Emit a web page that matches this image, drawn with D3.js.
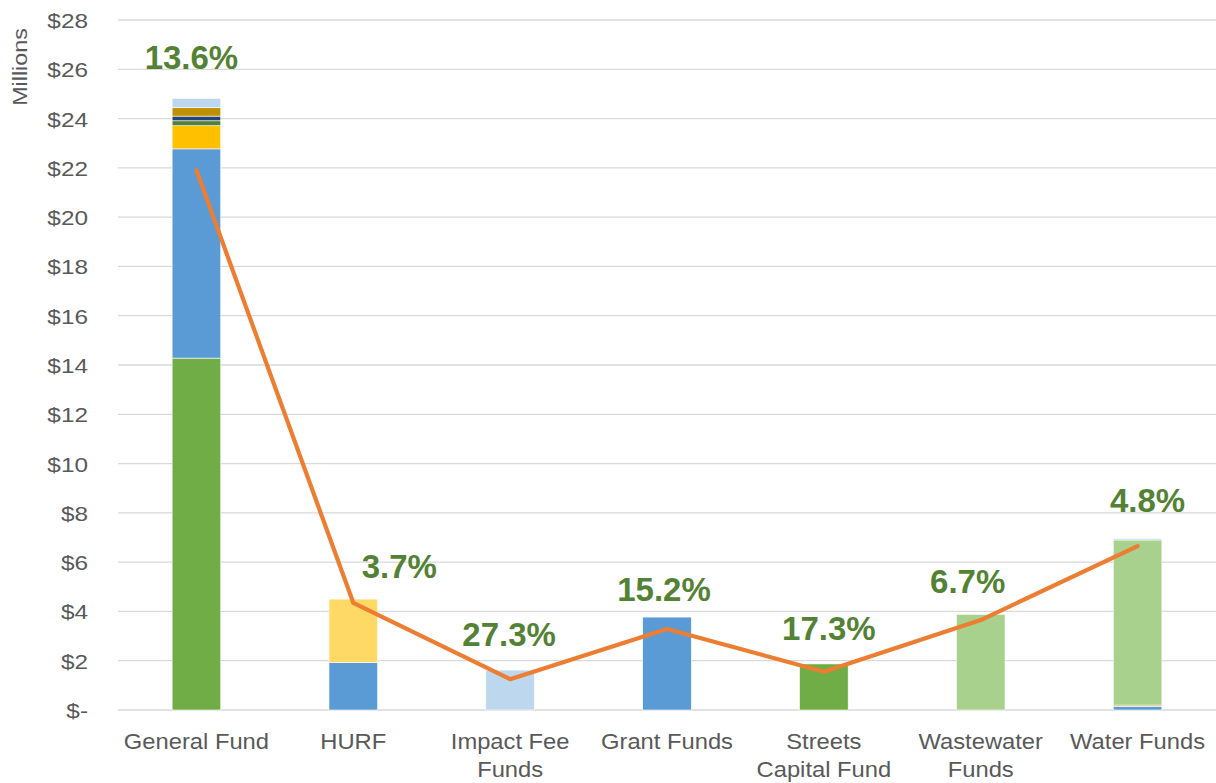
<!DOCTYPE html>
<html>
<head>
<meta charset="utf-8">
<script src="https://cdn.jsdelivr.net/npm/d3@7"></script>
<style>
  html, body { margin: 0; padding: 0; background: #fff; }
  svg { display: block; font-family: "Liberation Sans", Arial, sans-serif; }
</style>
</head>
<body>
<svg id="chart" width="1216" height="783"></svg>
<script>
// ---- data ----
const categories = ["General Fund", "HURF", "Impact Fee Funds", "Grant Funds", "Streets Capital Fund", "Wastewater Funds", "Water Funds"];
const categoryLines = [["General Fund"], ["HURF"], ["Impact Fee", "Funds"], ["Grant Funds"], ["Streets", "Capital Fund"], ["Wastewater", "Funds"], ["Water Funds"]];
const seriesNames = ["Source 1", "Source 2", "Source 3", "Source 4", "Source 5", "Source 6", "Source 7", "Source 8", "Source 9"];
const source1 = [14.28, 0, 0, 0, 1.87, 0, 0];
const source2 = [8.49, 1.92, 0, 3.77, 0, 0, 0.15];
const source3 = [0.94, 0, 0, 0, 0, 0, 0];
const source4 = [0.20, 0, 0, 0, 0, 0, 0];
const source5 = [0.19, 0, 0, 0, 0, 0, 0];
const source6 = [0.34, 0, 0, 0, 0, 0, 0.05];
const source7 = [0, 2.58, 0, 0, 0, 0, 0];
const source8 = [0, 0, 0, 0, 0, 3.88, 6.70];
const source9 = [0.38, 0, 1.62, 0, 0, 0, 0.06];
const lineValues = [21.9, 4.35, 1.25, 3.29, 1.55, 3.65, 6.65];
const pctLabels = ["13.6%", "3.7%", "27.3%", "15.2%", "17.3%", "6.7%", "4.8%"];
const yTicks = [0, 2, 4, 6, 8, 10, 12, 14, 16, 18, 20, 22, 24, 26, 28];

// ---- layout / style (not data) ----
const seriesColors = ["#70AD47", "#5B9BD5", "#FFC000", "#548235", "#264478", "#BF9000", "#FFD966", "#A9D18E", "#BDD7EE"];
const labelAnchorValue = [26.01, 5.36, 2.60, 4.42, 2.84, 4.75, 8.03];
const labelDx = [-5, 46, -1, -3, 5, -13, 10];

const seriesData = [source1, source2, source3, source4, source5, source6, source7, source8, source9];
const rows = categories.map((c, i) => {
  const r = { category: c };
  seriesNames.forEach((s, k) => r[s] = seriesData[k][i]);
  return r;
});

const svg = d3.select("#chart");
const mLeft = 118, mRight = 1216, mTop = 20, mBottom = 710;

const x = d3.scaleBand().domain(categories).range([mLeft, mRight]).paddingInner(0.69).paddingOuter(0.345);
const xc = d => x(d) + x.bandwidth() / 2;
const y = d3.scaleLinear().domain([0, 28]).range([mBottom, mTop]);

// gridlines
svg.append("g").selectAll("line").data(yTicks).join("line")
  .attr("x1", mLeft).attr("x2", mRight)
  .attr("y1", d => y(d)).attr("y2", d => y(d))
  .attr("stroke", "#D9D9D9").attr("stroke-width", 1.3);

// y axis labels
const yAxis = d3.axisLeft(y).tickValues(yTicks).tickSize(0).tickPadding(0)
  .tickFormat(d => d === 0 ? "$-" : "$" + d);
const ya = svg.append("g").attr("transform", `translate(88,0)`).call(yAxis);
ya.select(".domain").remove();
ya.selectAll("text").attr("fill", "#595959").style("font-size", "21px")
  .style("font-family", "'Liberation Sans', Arial, sans-serif").attr("dy", "0.36em")
  .attr("transform", "scale(1.16,1)");

// y title
svg.append("text").attr("transform", "translate(27,67) rotate(-90) scale(1.11,1)")
  .attr("text-anchor", "middle").attr("fill", "#595959").style("font-size", "21px")
  .text("Millions");

// stacked bars
const stack = d3.stack().keys(seriesNames);
const layers = stack(rows);
svg.append("g").selectAll("g").data(layers).join("g")
  .attr("fill", (d, i) => seriesColors[i])
  .selectAll("rect").data(d => d.filter(p => p[1] - p[0] > 0)).join("rect")
  .attr("x", d => x(d.data.category))
  .attr("width", x.bandwidth())
  .attr("y", d => y(d[1]))
  .attr("height", d => y(d[0]) - y(d[1]))
  .attr("stroke", "#fff").attr("stroke-width", 0.6);

// line
const line = d3.line().x((d, i) => xc(categories[i])).y(d => y(d));
svg.append("path").datum(lineValues).attr("d", line)
  .attr("fill", "none").attr("stroke", "#ED7D31").attr("stroke-width", 4.2)
  .attr("stroke-linejoin", "round").attr("stroke-linecap", "round");

// percent labels
svg.append("g").selectAll("text").data(pctLabels).join("text")
  .attr("x", (d, i) => xc(categories[i]) + labelDx[i])
  .attr("y", (d, i) => y(labelAnchorValue[i]))
  .attr("text-anchor", "middle").attr("fill", "#548235")
  .style("font-size", "33px").style("font-weight", "bold")
  .text(d => d);

// category labels
const cat = svg.append("g").selectAll("g").data(categories).join("g")
  .attr("transform", d => `translate(${xc(d)},749) scale(1.08,1)`);
cat.append("text")
  .attr("text-anchor", "middle").attr("fill", "#595959").style("font-size", "22px")
  .each(function(d, i) {
    d3.select(this).selectAll("tspan").data(categoryLines[i]).join("tspan")
      .attr("x", 0).attr("dy", (t, j) => j === 0 ? 0 : 28).text(t => t);
  });
</script>
</body>
</html>
